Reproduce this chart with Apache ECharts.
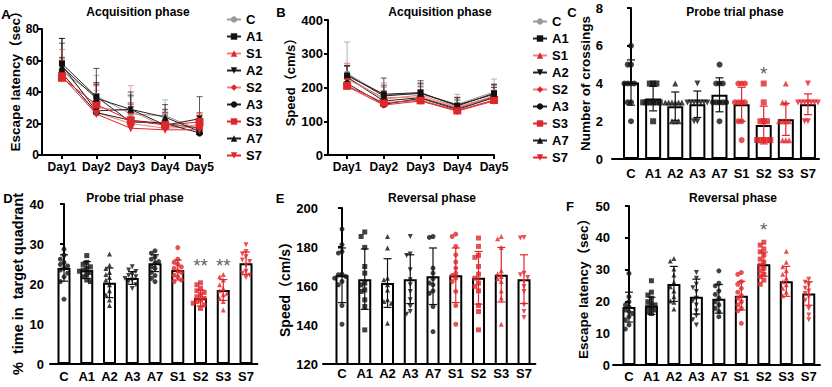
<!DOCTYPE html>
<html lang="en">
<head>
<meta charset="utf-8">
<title>Water maze</title>
<script src="https://cdn.jsdelivr.net/npm/echarts@6/dist/echarts.min.js"></script>
<style>html,body{margin:0;padding:0;background:#fff}#main{width:832px;height:387px}</style>
</head>
<body>
<div id="main"></div>
<script>
// ---- line panels (A, B) ----
const lineGroups = ['C', 'A1', 'S1', 'A2', 'S2', 'A3', 'S3', 'A7', 'S7'];
const days = ['Day1', 'Day2', 'Day3', 'Day4', 'Day5'];
// escape latency (sec), one row per group in lineGroups order
const escMean = [
  [53, 37.5, 26, 25, 16], [58, 37, 21, 20, 17], [55, 30, 28, 18, 19],
  [57, 28, 29, 19, 23], [52, 27, 20, 17, 18], [52, 27, 22, 20, 14],
  [49, 32, 22, 19, 21], [56, 36, 29, 24, 15], [50, 26, 17, 16, 16]
];
const escSD = [
  [21, 13, 11, 10, 10], [16, 18, 12, 9, 8], [12, 15, 16, 10, 7],
  [14, 17, 11, 8, 14], [15, 14, 13, 10, 8], [10, 12, 8, 6, 6],
  [12, 12, 10, 8, 6], [18, 10, 9, 8, 8], [10, 10, 9, 8, 6]
];
// speed (cm/s)
const speedMean = [
  [242, 178, 182, 150, 187], [235, 180, 185, 145, 183], [232, 165, 178, 142, 175],
  [230, 160, 170, 138, 172], [225, 170, 172, 140, 170], [212, 150, 168, 135, 170],
  [205, 155, 162, 132, 163], [238, 175, 183, 148, 180], [203, 148, 160, 130, 160]
];
const speedSD = [
  [93, 35, 30, 30, 38], [30, 48, 35, 25, 25], [40, 35, 30, 28, 30],
  [35, 30, 32, 25, 28], [45, 40, 35, 32, 35], [30, 25, 25, 20, 20],
  [25, 30, 25, 18, 22], [25, 30, 30, 22, 30], [28, 25, 22, 20, 25]
];

// ---- bar panels (C-F) ----
const cats = ['C', 'A1', 'A2', 'A3', 'A7', 'S1', 'S2', 'S3', 'S7'];

const crossMean = [4.05, 3.2, 2.8, 2.9, 3.4, 2.9, 1.8, 2.1, 2.9];
const crossSD = [1.2, 0.65, 0.75, 0.7, 0.9, 0.9, 1.0, 0.85, 0.55];
const crossPts = [
  [6, 5, 5, 4, 4, 4, 4, 3, 3, 2], [4, 4, 4, 3, 3, 3, 3, 3, 3, 2],
  [4, 3, 3, 3, 3, 3, 3, 2, 2, 2], [4, 3, 3, 3, 3, 3, 3, 3, 2, 2],
  [5, 4, 4, 4, 3, 3, 3, 3, 3, 2], [4, 4, 4, 3, 3, 3, 3, 2, 2, 1],
  [4, 3, 2, 2, 2, 1, 1, 1, 1, 1], [4, 3, 3, 2, 2, 2, 2, 1, 1, 1],
  [4, 3, 3, 3, 3, 3, 3, 3, 2, 2]
];

const quadMean = [24, 23.5, 20.3, 21.5, 25.2, 23.5, 16.5, 18.5, 25.2];
const quadSD = [3.3, 2.1, 3.7, 1.6, 2.1, 2.5, 2.0, 2.6, 2.8];
const quadPts = [
  [28.7, 27.2, 26.2, 25.4, 24.9, 24.5, 23.9, 23.5, 22.7, 21.8, 20.6, 16.2],
  [27.1, 25.4, 24.9, 24.3, 23.9, 23.5, 23.2, 22.9, 22.4, 21.8, 21, 20.6],
  [27.5, 24.7, 23.9, 22.9, 22.4, 21.6, 21, 19.8, 18.3, 17.3, 16, 14.6],
  [24.3, 23.5, 23.1, 22.4, 22.1, 21.8, 21.4, 21, 20.6, 19.8, 18.9],
  [28.3, 27.7, 26.8, 26.2, 25.6, 25.2, 24.3, 23.9, 22.9, 22.1, 21.4, 20.6],
  [29.1, 26.2, 25.4, 24.9, 24.3, 23.9, 23.2, 22.9, 22.2, 21.8, 21, 20.6],
  [20.3, 19.8, 18.9, 18.3, 17.9, 17.3, 16.8, 16.4, 16, 15.6, 15.2, 14.8, 13.9],
  [22.4, 21.8, 21, 19.8, 18.9, 18.3, 17.7, 17.3, 16.4, 15.6, 13.5],
  [29.8, 28.1, 27.5, 26.8, 26, 25.6, 24.7, 23.1, 22.7, 22.2, 21.6]
];

const revSpeedMean = [165.5, 163.5, 161.5, 163.5, 165, 165.5, 164.2, 165.8, 163.5];
const revSpeedSD = [14, 15.5, 12.5, 12.5, 14.5, 14, 13.5, 14, 12.5];
const revSpeedPts = [
  [189.2, 181.2, 177.7, 176.9, 166.1, 165.8, 164.9, 164, 162.3, 160.6, 150, 140.4],
  [187.7, 185.4, 179.8, 170, 166.6, 161.5, 160.6, 158, 157.2, 152.9, 149.5, 137.5],
  [185.4, 179.5, 164, 163.2, 160.6, 158, 152.9, 152.1, 151.2, 140.9],
  [185.4, 176.4, 175.7, 168.3, 163.2, 160.6, 157.2, 152.9, 149.5, 146.9, 145.5],
  [185.4, 184.9, 169.2, 166.6, 163.7, 161.5, 160.6, 157.5, 156.3, 149.5, 136.6],
  [186.6, 185.4, 180.3, 176, 172.3, 169.2, 166.6, 165.4, 164, 162.3, 157.2, 150, 140.4],
  [184.6, 180.3, 175.7, 174.7, 170, 166.1, 164, 161.5, 159.8, 157.5, 150, 146.9, 137.5],
  [185.4, 184.2, 179.8, 167.8, 166.1, 164.9, 163.7, 162.3, 157.5, 153.8, 140.4],
  [184.9, 184.6, 166.6, 165.8, 164.4, 162.3, 159.8, 157.2, 150.3, 146.9, 143.8]
];

const revLatMean = [18.2, 18.6, 25.5, 21.5, 20.8, 21.8, 31.7, 26.3, 22.5];
const revLatSD = [4.7, 2.7, 5.5, 5.5, 4.5, 4.5, 3.8, 4.7, 3.7];
const revLatPts = [
  [28.8, 21.5, 19.9, 18.9, 18.3, 17.3, 16.8, 16.2, 15.2, 14.2, 12.6, 11.3],
  [26.5, 22.9, 22, 21, 19.9, 19.4, 18.9, 18.3, 17.8, 17.3, 16.8, 16.2],
  [33.5, 32.7, 30.2, 28.3, 26, 24.6, 23.3, 21.5, 20.1, 19.7, 17.6],
  [29.1, 27.3, 25.4, 24.3, 23.1, 21, 20.1, 18.9, 17, 15.5, 14.2, 12.6],
  [29.6, 25.7, 24.9, 23.3, 22.2, 21, 19.9, 18.9, 17.8, 16.8, 15.2],
  [29.1, 28.5, 26.2, 25.4, 24.1, 22.9, 21.8, 21, 19.9, 18.9, 17.8, 17, 13.1],
  [38.6, 37.7, 36.5, 35.6, 34.6, 33.3, 32.3, 31.4, 30.4, 29.6, 28.5, 27.8, 26.7, 25.4],
  [35.8, 32.3, 30.9, 29.6, 28.5, 27.3, 26.2, 25.2, 24.1, 22.9, 21.8],
  [27, 26, 25.2, 24.1, 23.3, 22.5, 21.5, 20.4, 17.8, 15.7, 14.2]
];

// significance marks: [group index, y value, text]
const starsC = [[6, 4.55, '*']];
const starsD = [[6, 24.6, '**'], [7, 24.6, '**']];
const starsF = [[6, 42.6, '*']];

// ---- look ----
const FONT = '"Liberation Sans", Arial, "Noto Sans CJK SC", sans-serif';
const BLACK = '#111', RED = '#e0262b', GRAY = '#9a9a9a';
const lineLook = {
  C: { c: GRAY, l: GRAY, s: 'circle', z: 6 },
  A1: { c: BLACK, l: '#222', s: 'rect', z: 6 },
  S1: { c: RED, l: '#e98080', s: 'triangle', z: 6 },
  A2: { c: BLACK, l: '#222', s: 'triangle', r: 180, z: 6 },
  S2: { c: RED, l: '#e98080', s: 'diamond', z: 6 },
  A3: { c: BLACK, l: '#222', s: 'circle', z: 7 },
  S3: { c: RED, l: RED, s: 'rect', z: 8 },
  A7: { c: BLACK, l: '#222', s: 'triangle', z: 7 },
  S7: { c: RED, l: RED, s: 'triangle', r: 180, z: 8 }
};
const dotShape = { C: 'circle', A1: 'rect', A2: 'triangle', A3: 'triangle', A7: 'circle',
  S1: 'circle', S2: 'rect', S3: 'triangle', S7: 'triangle' };
const dotRot = { A3: 180, S7: 180 };
const groupColor = g => (g[0] === 'S' ? RED : BLACK);

// spread points sideways where they crowd, GraphPad style
function spread(vals, step, thr) {
  const order = vals.map((v, i) => i).sort((a, b) => vals[b] - vals[a]);
  const slots = [0, -1, 1, -2, 2, -3, 3];
  const slot = new Array(vals.length).fill(0);
  const done = [];
  order.forEach(i => {
    const used = done.filter(p => Math.abs(vals[p] - vals[i]) < thr).map(p => slot[p]);
    const s = slots.find(k => !used.includes(k));
    slot[i] = s === undefined ? 0 : s;
    done.push(i);
  });
  return slot.map(s => s * step);
}

const axisLine = { lineStyle: { color: '#000', width: 2 } };
const axisTick = { length: 4, lineStyle: { color: '#000', width: 2 } };

function xLineAxis(grid, min, fs) {
  return {
    type: 'value', gridIndex: grid, min: min, max: 5,
    axisLine: axisLine, splitLine: { show: false },
    axisTick: Object.assign({ customValues: [1, 2, 3, 4, 5] }, axisTick),
    axisLabel: { customValues: [1, 2, 3, 4, 5], formatter: v => days[Math.round(v) - 1],
      color: '#000', fontWeight: 'bold', fontSize: fs, fontFamily: FONT, margin: 6 }
  };
}
function xBarAxis(grid, min, margin) {
  return {
    type: 'value', gridIndex: grid, min: min, max: 8.5,
    axisLine: axisLine, splitLine: { show: false }, axisTick: { show: false },
    axisLabel: { customValues: [0, 1, 2, 3, 4, 5, 6, 7, 8], formatter: v => cats[Math.round(v)],
      color: '#000', fontWeight: 'bold', fontSize: 13, fontFamily: FONT, margin: margin }
  };
}
function yAxis(grid, min, max, step, name, gap, shift, nameFs, fs, margin) {
  return {
    type: 'value', gridIndex: grid, min: min, max: max, interval: step,
    axisLine: { show: true, lineStyle: axisLine.lineStyle }, axisTick: { show: true, length: 4, lineStyle: axisTick.lineStyle },
    splitLine: { show: false },
    axisLabel: { color: '#000', fontWeight: 'bold', fontSize: fs, fontFamily: FONT, margin: margin },
    name: name, nameLocation: 'middle', nameGap: gap, nameRotate: 90,
    nameTextStyle: { color: '#000', fontWeight: 'bold', fontSize: nameFs, fontFamily: FONT,
      padding: [0, 0, 0, shift] }
  };
}

const series = [];

// line panels
function addLinePanel(idx, means, sds) {
  const errs = [];
  lineGroups.forEach((g, i) => {
    const lk = lineLook[g];
    series.push({
      type: 'line', name: g, xAxisIndex: idx, yAxisIndex: idx,
      data: days.map((d, j) => [j + 1, means[i][j]]),
      symbol: lk.s, symbolSize: lk.z, symbolRotate: lk.r || 0,
      itemStyle: { color: lk.c }, lineStyle: { color: lk.l, width: 1 }, z: 3
    });
    days.forEach((d, j) => errs.push([j + 1, means[i][j], sds[i][j], i]));
  });
  series.push({
    type: 'custom', xAxisIndex: idx, yAxisIndex: idx, data: errs, z: 2, silent: true,
    renderItem: (p, api) => {
      const x = api.value(0), m = api.value(1), s = api.value(2);
      const col = lineLook[lineGroups[api.value(3)]].l;
      const a = api.coord([x, m]), b = api.coord([x, m + s]);
      const st = { stroke: col, lineWidth: 1, opacity: 0.75 };
      return { type: 'group', children: [
        { type: 'line', shape: { x1: a[0], y1: a[1], x2: b[0], y2: b[1] }, style: st },
        { type: 'line', shape: { x1: b[0] - 3, y1: b[1], x2: b[0] + 3, y2: b[1] }, style: st }
      ] };
    }
  });
}
addLinePanel(0, escMean, escSD);
addLinePanel(1, speedMean, speedSD);

// bar panels
function addBarPanel(idx, means, sds, pts, barW, dotSize, step, thr, stars) {
  series.push({
    type: 'bar', xAxisIndex: idx, yAxisIndex: idx, barWidth: barW, z: 2, silent: true,
    data: means.map((m, i) => [i, m]),
    itemStyle: { color: '#fff', borderColor: '#000', borderWidth: 2 }
  });
  const dots = [];
  pts.forEach((vals, i) => {
    const off = spread(vals, step, thr);
    const g = cats[i];
    vals.forEach((v, k) => dots.push({
      value: [i + off[k], v], symbol: dotShape[g], symbolRotate: dotRot[g] || 0,
      itemStyle: { color: groupColor(g) }
    }));
  });
  series.push({ type: 'scatter', xAxisIndex: idx, yAxisIndex: idx, data: dots,
    symbolSize: dotSize, z: 3, silent: true });
  series.push({
    type: 'custom', xAxisIndex: idx, yAxisIndex: idx, z: 4, silent: true,
    data: means.map((m, i) => [i, m, sds[i]]),
    renderItem: (p, api) => {
      const x = api.value(0), m = api.value(1), s = api.value(2);
      const t = api.coord([x, m + s]), b = api.coord([x, m - s]);
      const st = { stroke: groupColor(cats[p.dataIndex]), lineWidth: 1.2 };
      return { type: 'group', children: [
        { type: 'line', shape: { x1: t[0], y1: t[1], x2: b[0], y2: b[1] }, style: st },
        { type: 'line', shape: { x1: t[0] - 4, y1: t[1], x2: t[0] + 4, y2: t[1] }, style: st },
        { type: 'line', shape: { x1: b[0] - 4, y1: b[1], x2: b[0] + 4, y2: b[1] }, style: st }
      ] };
    }
  });
  series.push({
    type: 'scatter', xAxisIndex: idx, yAxisIndex: idx, symbolSize: 1, z: 5, silent: true,
    itemStyle: { color: 'rgba(0,0,0,0)' },
    data: stars.map(s => ({ value: [s[0], s[1]], label: { show: true, position: 'inside',
      formatter: s[2], color: '#333', fontSize: 19, fontFamily: FONT } }))
  });
}
addBarPanel(2, crossMean, crossSD, crossPts, 16, 6, 0.15, 0.5, starsC);
addBarPanel(3, quadMean, quadSD, quadPts, 13, 5, 0.16, 1.2, starsD);
addBarPanel(4, revSpeedMean, revSpeedSD, revSpeedPts, 13, 5, 0.16, 2.4, []);
addBarPanel(5, revLatMean, revLatSD, revLatPts, 13, 5, 0.16, 1.5, starsF);

const legendBase = {
  data: lineGroups, orient: 'vertical', itemWidth: 14, itemHeight: 8, itemGap: 4,
  selectedMode: false, textStyle: { color: '#000', fontWeight: 'bold', fontSize: 13, fontFamily: FONT }
};

function txt(x, y, s, size) {
  return { type: 'text', x: x, y: y, silent: true,
    style: { text: s, fill: '#000', font: 'bold ' + size + 'px ' + FONT,
      align: 'center', verticalAlign: 'middle', textAlign: 'center', textVerticalAlign: 'middle' } };
}

const chart = echarts.init(document.getElementById('main'), null, { renderer: 'svg' });
chart.setOption({
  animation: false,
  grid: [
    { left: 42, top: 29, width: 157.5, height: 126, outerBoundsMode: 'none' },
    { left: 328, top: 20, width: 166, height: 135, outerBoundsMode: 'none' },
    { left: 612, top: 8, width: 207, height: 151, outerBoundsMode: 'none' },
    { left: 50, top: 204, width: 207.4, height: 160, outerBoundsMode: 'none' },
    { left: 323, top: 208, width: 212.4, height: 156, outerBoundsMode: 'none' },
    { left: 613, top: 206, width: 207, height: 159, outerBoundsMode: 'none' }
  ],
  xAxis: [
    xLineAxis(0, 0.42, 12),
    xLineAxis(1, 0.48, 12),
    xBarAxis(2, -0.86, 8),
    xBarAxis(3, -0.615, 6),
    xBarAxis(4, -0.835, 3),
    xBarAxis(5, -0.71, 5)
  ],
  yAxis: [
    yAxis(0, 0, 80, 20, 'Escape latency（sec）', 12, 28, 13.5, 12, 3),
    yAxis(1, 0, 400, 100, 'Speed（cm/s）', 26, 17, 13, 13, 5),
    yAxis(2, 0, 8, 2, 'Number of crossings', 15, 0, 13.5, 13, 9),
    yAxis(3, 0, 40, 10, '%  time in  target quadrant', 21, 0, 14.5, 13, 6),
    yAxis(4, 120, 200, 20, 'Speed（cm/s）', 27, 0, 14, 13, 5),
    yAxis(5, 0, 50, 10, 'Escape latency（sec）', 23, 0, 13.5, 13, 3)
  ],
  legend: [
    Object.assign({ left: 221, top: 8 }, legendBase),
    Object.assign({ left: 527, top: 10 }, legendBase)
  ],
  graphic: [
    txt(6, 14, 'A', 13), txt(281, 12, 'B', 13), txt(572, 12, 'C', 13),
    txt(8, 198, 'D', 13), txt(280, 198, 'E', 13), txt(570, 206, 'F', 13),
    txt(138, 12, 'Acquisition phase', 12), txt(440, 12, 'Acquisition phase', 12),
    txt(735, 12, 'Probe trial phase', 12), txt(135, 198, 'Probe trial phase', 12),
    txt(432, 198, 'Reversal phase', 12), txt(733, 198, 'Reversal phase', 12)
  ],
  series: series
});
</script>
</body>
</html>
